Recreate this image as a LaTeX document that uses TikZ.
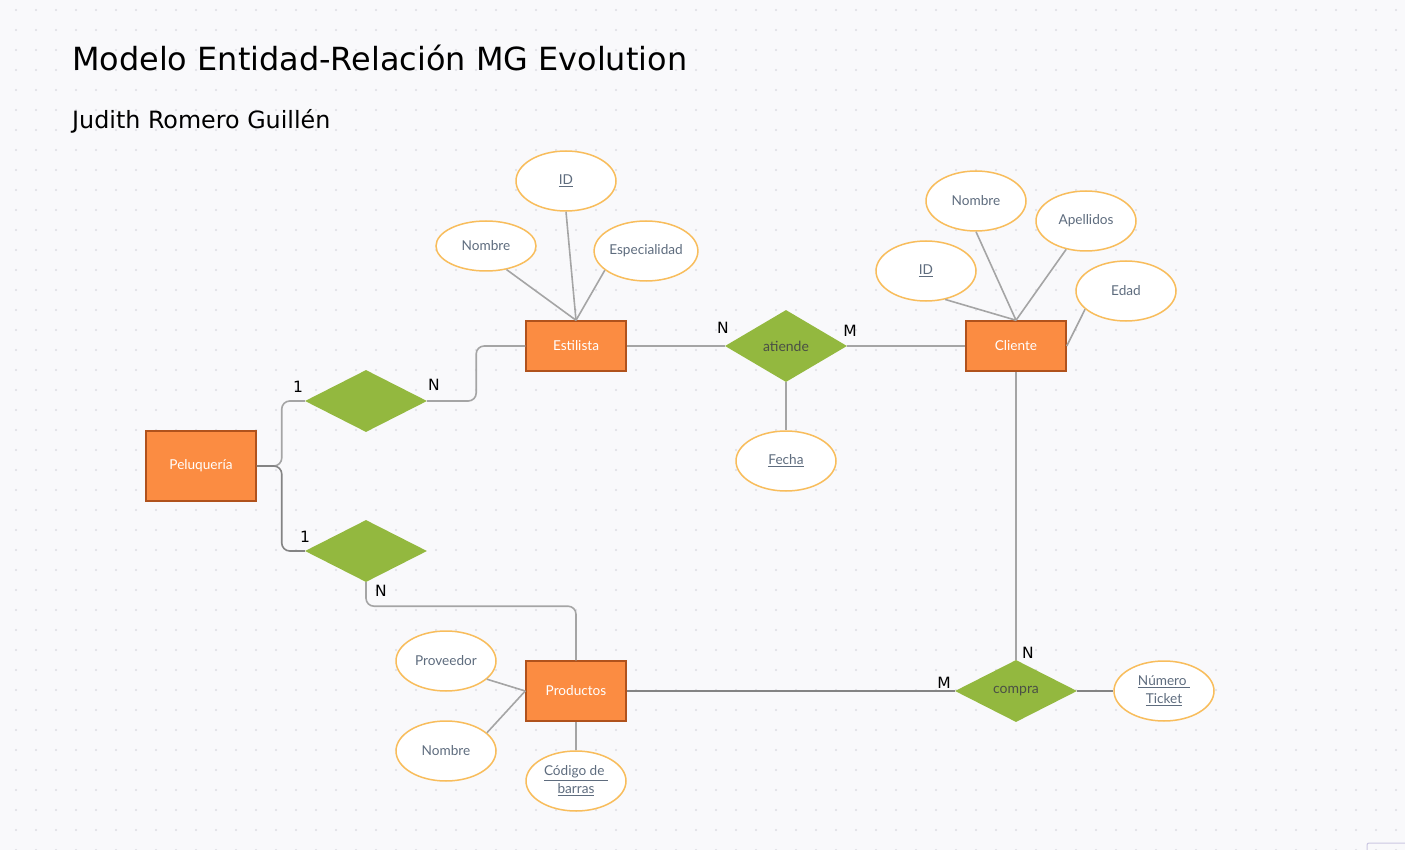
\documentclass[tikz,border=0pt]{standalone}
\usepackage{fontspec}
\setmainfont{Lato}
\newfontfamily\dejavu{DejaVu Sans}
\usetikzlibrary{shapes.geometric, positioning}

\definecolor{paper}{HTML}{F9F9FB}
\definecolor{griddot}{HTML}{DDDDE3}
\definecolor{entfill}{HTML}{FB8C42}
\definecolor{entline}{HTML}{B0521C}
\definecolor{relfill}{HTML}{93B83F}
\definecolor{attline}{HTML}{F8BD5C}
\definecolor{atttext}{HTML}{5E6C7E}
\definecolor{reltext}{HTML}{4A4F45}
\definecolor{linkgray}{HTML}{A5A5A5}
\definecolor{linkdark}{HTML}{848484}
\definecolor{uiline}{HTML}{CBC7E2}

\begin{document}
\begin{tikzpicture}[x=1pt, y=-1pt,
    entity/.style={rectangle, draw=entline, line width=1.5, fill=entfill,
        minimum width=100, minimum height=50, inner sep=0, text=white,
        font=\fontsize{13.6}{15}\selectfont},
    relation/.style={diamond, fill=relfill, minimum width=122, minimum height=62,
        inner sep=0, text=reltext, font=\fontsize{14}{16}\selectfont},
    attrib/.style={ellipse, draw=attline, line width=1.5, fill=white,
        minimum width=100, minimum height=60, inner sep=0, text=atttext,
        align=center, font=\fontsize{13.6}{18}\selectfont},
    card/.style={inner sep=0, text=black, font=\dejavu\fontsize{15.5}{16}\selectfont},
    link/.style={draw=linkgray, line width=1.6},
    darklink/.style={draw=linkdark, line width=1.6}]

    % background and dot grid
    \useasboundingbox[fill=paper] (0,0) rectangle (1405,850);
    \foreach \gx in {16,36,...,1396}
        \foreach \gy in {10,30,...,850}
            \fill[griddot] (\gx,\gy) circle (1.1);
    \draw[uiline, line width=1, rounded corners=2] (1367,852) |- (1407,843);

    % titles
    \node[anchor=base west, inner sep=0, font=\dejavu\fontsize{31.9}{32}\selectfont] (title)
        at (72,71) {Modelo Entidad-Relación MG Evolution};
    \node[anchor=base west, inner sep=0, font=\dejavu\fontsize{23.8}{24}\selectfont] (author)
        at (72,129) {Judith Romero Guillén};

    % entities
    \node[entity] (estilista) at (576,346) {Estilista};
    \node[entity] (cliente) at (1016,346) {Cliente};
    \node[entity, minimum width=110, minimum height=70] (pelu) at (201,466) {Peluquería};
    \node[entity, minimum height=60] (productos) at (576,691) {Productos};

    % relations
    \node[relation, minimum height=72] (atiende) at (786,346) {atiende};
    \node[relation] (relEst) at (366,401) {};
    \node[relation] (relProd) at (366,551) {};
    \node[relation] (compra) at (1016,691) {\raisebox{-1pt}{compra}};

    % attributes
    \node[attrib] (estId) at (566,181) {\underline{ID}};
    \node[attrib, minimum height=50] (estNombre) at (486,246) {Nombre};
    \node[attrib] (estEspec) at (646,251) {Especialidad};
    \node[attrib] (cliNombre) at (976,201) {Nombre};
    \node[attrib] (cliApell) at (1086,221) {Apellidos};
    \node[attrib] (cliId) at (926,271) {\underline{ID}};
    \node[attrib] (cliEdad) at (1126,291) {Edad};
    \node[attrib] (atFecha) at (786,461) {\underline{Fecha}};
    \node[attrib] (prodProv) at (446,661) {Proveedor};
    \node[attrib] (prodNombre) at (446,751) {Nombre};
    \node[attrib] (prodCodigo) at (576,781) {\underline{Código de\ }\\\underline{barras}};
    \node[attrib] (compTicket) at (1164,691) {\underline{Número\ }\\\underline{Ticket}};

    % cardinalities
    \node[card] (c1) at (298,387) {1};
    \node[card] (c2) at (434,385) {N};
    \node[card] (c3) at (305,537) {1};
    \node[card] (c4) at (381,591) {N};
    \node[card] (c5) at (723,328) {N};
    \node[card] (c6) at (850,331) {M};
    \node[card] (c7) at (1028,653) {N};
    \node[card] (c8) at (944,683) {M};

    % connectors
    \path[link]
    (estNombre.-49) edge (estilista.north)
    (estId.south) edge (estilista.north)
    (estEspec.-155) edge (estilista.north)
    (cliId.-56) edge (cliente.north)
    (cliNombre.south) edge (cliente.north)
    (cliApell.-125) edge (cliente.north)
    (cliEdad.-156) edge (cliente.east)
    (estilista) edge (atiende)
    (atiende) edge (cliente)
    (atiende) edge (atFecha)
    (cliente) edge (compra)
    (prodProv.-24) edge (productos.west)
    (prodNombre.24) edge (productos.west)
    (prodCodigo) edge (productos);
    \path[darklink]
    (productos) edge (compra)
    (compra) edge (compTicket);

    \draw[link, rounded corners=8] (pelu.east) -- ++(25,0) |- (relEst.west);
    \draw[darklink, rounded corners=8] (pelu.east) -- ++(25,0) |- (relProd.west);
    \draw[link, rounded corners=8] (relEst.east) -- ++(49,0) |- (estilista.west);
    \draw[link, rounded corners=8] (relProd.south) -- ++(0,24) -| (productos.north);

\end{tikzpicture}
\end{document}
